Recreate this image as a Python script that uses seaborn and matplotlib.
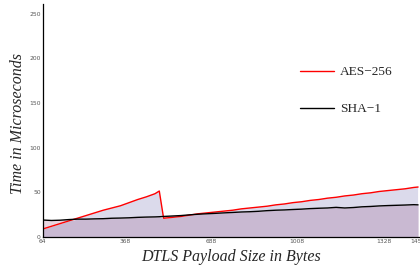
import numpy as np
import pandas as pd
import matplotlib
matplotlib.use("Agg")
import matplotlib.pyplot as plt
import seaborn as sns

# payload sizes (bytes) and timings (microseconds)
payload = [64, 96, 128, 160, 192, 224, 256, 288, 320, 352, 384, 416, 448, 480, 496,
           512, 544, 576, 608, 640, 672, 704, 736, 768, 800, 832, 864, 896, 928, 960,
           992, 1024, 1056, 1088, 1120, 1152, 1184, 1216, 1248, 1280, 1312, 1344, 1376,
           1408, 1440, 1456]
aes256 = [9, 12, 15, 18, 21, 24, 27, 30, 32.5, 35, 38.5, 42, 45, 48.5, 51.5,
          21, 22, 23, 24.5, 26, 27, 28, 29, 30, 31.5, 32.5, 33.5, 34.5, 36, 37,
          38.5, 39.5, 41, 42, 43.5, 44.5, 46, 47, 48.5, 49.5, 51, 52, 53,
          54, 55.5, 56]
sha1 = [19, 18.5, 18.8, 19.5, 20, 20, 20.3, 20.5, 21, 21.2, 21.5, 22, 22.3, 22.5, 22.7,
        23, 23.5, 24, 24.8, 25.5, 26, 26.5, 27, 27.5, 28, 28.3, 28.8, 29.5, 30, 30.3,
        30.8, 31.2, 31.8, 32.2, 32.5, 33.2, 32.5, 33, 33.8, 34.2, 34.8, 35.2, 35.5,
        35.8, 36.2, 36]

x_ticks = [64, 368, 688, 1008, 1328, 1456]
y_ticks = [0, 50, 100, 150, 200, 250]

df = pd.DataFrame({"payload": payload, "AES\u2212256": aes256, "SHA\u22121": sha1})
long = df.melt(id_vars="payload", var_name="algo", value_name="time")

sns.set_style("white")
plt.rcParams['font.family'] = ['Liberation Serif', 'DejaVu Serif']

fig = plt.figure(figsize=(4.2, 2.69), dpi=100)
ax = fig.add_axes([0.102, 0.119, 0.896, 0.866])

a = np.array(aes256)
s = np.array(sha1)
lo = np.minimum(a, s)
ax.fill_between(payload, 0, lo, color='#c9b9d2', lw=0, zorder=1)
ax.fill_between(payload, s, a, where=a >= s, interpolate=True, color='#dbdaeb', lw=0, zorder=1)
ax.fill_between(payload, a, s, where=s > a, interpolate=True, color='#e9d5e0', lw=0, zorder=1)

sns.lineplot(data=long, x="payload", y="time", hue="algo",
             palette={"AES\u2212256": "#ff0000", "SHA\u22121": "#000000"},
             lw=1.0, ax=ax, zorder=3)

ax.set_xlim(64, 1460)
ax.set_ylim(0, 261)
ax.set_xticks(x_ticks)
ax.set_xticklabels([str(t) for t in x_ticks])
ax.set_yticks(y_ticks)
ax.set_xticks([t for t in range(112, 1456, 64) if t not in x_ticks], minor=True)
ax.set_yticks([t for t in range(10, 260, 10) if t % 50], minor=True)
ax.tick_params(axis='both', which='major', direction='in', length=3, width=0.6,
               labelsize=4.3, labelcolor='#555555', pad=1.5, colors='#333333')
ax.tick_params(axis='both', which='minor', direction='in', length=1.8, width=0.5,
               colors='#555555')
ax.tick_params(axis='x', which='both', colors='#aaaaaa', labelcolor='#555555')
for lab in ax.get_xticklabels() + ax.get_yticklabels():
    lab.set_family('DejaVu Sans')

for side in ['top', 'right']:
    ax.spines[side].set_visible(False)
for side in ['left', 'bottom']:
    ax.spines[side].set_color('black')
    ax.spines[side].set_linewidth(0.9)
    ax.spines[side].set_zorder(4)

ax.set_xlabel("DTLS Payload Size in Bytes", fontsize=11.5, style='italic')
ax.xaxis.set_label_coords(0.5, -0.05)
ax.set_ylabel("Time in Microseconds", fontsize=11.5, style='italic')
ax.yaxis.set_label_coords(-0.045, 0.489)

ax.legend(loc='upper left', bbox_to_anchor=(0.652, 0.785), frameon=False,
          fontsize=9.6, handlelength=2.5, labelspacing=1.85, handletextpad=0.5,
          title=None)

fig.savefig("out.png", dpi=100)
